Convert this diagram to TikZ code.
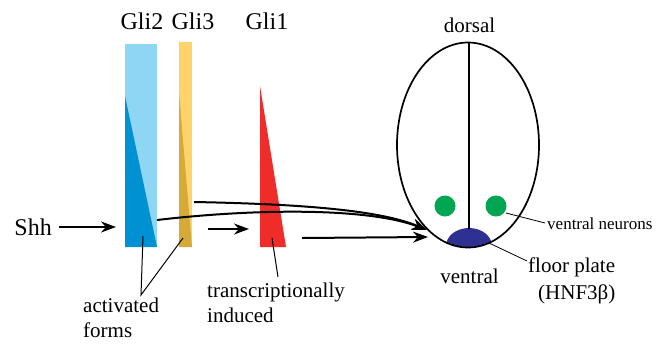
\documentclass[tikz,border=0pt]{standalone}
\usepackage{fontspec}
\setmainfont{Liberation Serif}
\usetikzlibrary{arrows.meta}
\definecolor{gtwolight}{HTML}{8FD6F4}
\definecolor{gtwodark}{HTML}{0091D2}
\definecolor{gthreelight}{HTML}{FDD36A}
\definecolor{gthreedark}{HTML}{D6AA36}
\definecolor{gonered}{HTML}{EE2D2A}
\definecolor{neurongreen}{HTML}{00A651}
\definecolor{floornavy}{HTML}{2E3192}
\tikzset{
  big/.style={font=\fontsize{24}{28}\selectfont, inner sep=0pt},
  mid/.style={font=\fontsize{21}{25}\selectfont, inner sep=0pt},
  small/.style={font=\fontsize{17}{20}\selectfont, inner sep=0pt},
  signal/.style={line width=2pt, -{Stealth[length=15pt, width=11pt]}},
  pointer/.style={line width=1pt},
}
\begin{document}
\begin{tikzpicture}[x=1pt, y=-1pt]
\useasboundingbox (0,0) rectangle (666,346);

% Gli2 bar with its activated wedge
\fill[gtwolight] (125,44) rectangle (157,247);
\fill[gtwodark] (125,96) -- (125,247) -- (157,247) -- cycle;
% Gli3 bar with its activated wedge
\fill[gthreelight] (179,42) rectangle (192,247);
\fill[gthreedark] (179,93) -- (179,247) -- (192,247) -- cycle;
% Gli1 wedge
\fill[gonered] (260,86) -- (260,247) -- (286,247) -- cycle;

% labels
\node[big] (gli2) at (142,21) {Gli2};
\node[big] (gli3) at (193,21) {Gli3};
\node[big] (gli1) at (267,21) {Gli1};
\node[big, anchor=east] (shh) at (52,227) {Shh};

% neural tube
\begin{scope}
  \clip (468,145) ellipse [x radius=70.5, y radius=102];
  \fill[floornavy] (469,246) ellipse [x radius=23, y radius=18];
\end{scope}
\draw[line width=1.7pt] (468,145) ellipse [x radius=71, y radius=102.5];
\coordinate (top) at (469,42.5);
\coordinate (mid) at (469,229);
\draw[line width=1.3pt] (top) -- (mid);
\fill[neurongreen] (445,206) circle [radius=10.5];
\fill[neurongreen] (496,206) circle [radius=10.5];
\node[mid] (dorsal) at (469.5,25) {dorsal};
\node[mid] (ventral) at (469.5,276) {ventral};
\node[small, anchor=west] (neurons) at (547,224) {ventral neurons};
\node[mid, anchor=west] (floor) at (528,267) {floor plate};
\node[mid, anchor=west] (hnf) at (538,294) {(HNF3β)};

% pointer lines
\coordinate (nrn) at (506,213);
\coordinate (nrnend) at (545,223);
\draw[pointer, line width=0.8pt] (nrn) -- (nrnend);
\coordinate (fp) at (489,243);
\coordinate (fpend) at (527,261);
\draw[pointer, line width=0.8pt] (fp) -- (fpend);

\node[mid, anchor=north west, align=left] (act) at (83,298) {activated\\forms};
\node[mid, anchor=north west, align=left] (trans) at (207,283) {transcriptionally\\induced};
\coordinate (blueptr) at (143,236);
\coordinate (yelptr) at (183,238);
\coordinate (actjoin) at (141,295);
\draw[pointer] (blueptr) -- (actjoin) -- (yelptr);
\coordinate (redptr) at (272,238);
\coordinate (redend) at (278,277);
\draw[pointer] (redptr) -- (redend);

% signalling arrows
\coordinate (shhend) at (116,227);
\draw[signal] ([xshift=7pt]shh.east) -- (shhend);
\coordinate (ya) at (208,229);
\coordinate (yb) at (249,229);
\draw[signal] (ya) -- (yb);
\coordinate (ra) at (302,238);
\coordinate (tip) at (428,237);
\draw[signal] (ra) -- (tip);
\coordinate (bluestart) at (157,220);
\coordinate (yelstart) at (194,202);
\coordinate (ctip) at (427,230);
\draw[signal] (bluestart) .. controls (260,208) and (370,208) .. (ctip);
\draw[signal] (yelstart) .. controls (300,204) and (380,210) .. (ctip);
\end{tikzpicture}
\end{document}
